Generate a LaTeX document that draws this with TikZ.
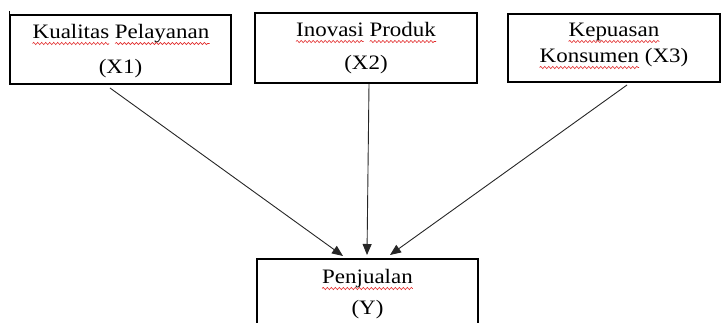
\documentclass[tikz,border=0pt]{standalone}
\usepackage{fontspec}
\setmainfont{Liberation Serif}[FakeStretch=1.12]
\usetikzlibrary{arrows.meta,calc,decorations.pathmorphing}
\definecolor{wavered}{RGB}{225,40,40}
\newlength\wKual \newlength\wPel \newlength\wIno \newlength\wProd
\newlength\wKons
\newcommand\lblfont{\fontsize{20.5}{24}\selectfont}
\begin{document}
\settowidth\wKual{\lblfont Kualitas}%
\settowidth\wPel{\lblfont Pelayanan}%
\settowidth\wIno{\lblfont Inovasi}%
\settowidth\wProd{\lblfont Produk}%
\settowidth\wKons{\lblfont Konsumen}%
\begin{tikzpicture}[x=1pt,y=-1pt,
  box/.style={draw=black,line width=1.6pt},
  lbl/.style={anchor=base,inner sep=0pt,font=\lblfont},
  wave/.style={draw=wavered,line width=0.6pt,decorate,decoration={snake,segment length=4pt,amplitude=1.1pt}},
  arr/.style={line width=0.9pt,draw=black!85,-{Triangle[length=11pt,width=9pt]}}]
\useasboundingbox (0,0) rectangle (721,323);
\clip (0,0) rectangle (721,323);
% boxes
\node[box,minimum width=221pt,minimum height=69pt,inner sep=0pt] (b1) at (120.5,49.5) {};
\node[box,minimum width=222pt,minimum height=70pt,inner sep=0pt] (b2) at (366,48) {};
\node[box,minimum width=212pt,minimum height=68pt,inner sep=0pt] (b3) at (614,48) {};
\node[box,minimum width=221pt,minimum height=80pt,inner sep=0pt] (by) at (367.5,299) {};
\draw[line width=0.8pt] (9,11) -- (9,15);
% texts
\node[lbl] (t1a) at (121,39) {Kualitas Pelayanan};
\node[lbl] (t1b) at (120.5,74) {(X1)};
\node[lbl] (t2a) at (366,37) {Inovasi Produk};
\node[lbl] (t2b) at (366,70) {(X2)};
\node[lbl] (t3a) at (614,37) {Kepuasan};
\node[lbl] (t3b) at (614,63) {Konsumen (X3)};
\node[lbl] (tya) at (367.5,284) {Penjualan};
\node[lbl] (tyb) at (367.5,315) {(Y)};
% spell-check waves
\draw[wave] ($(t1a.base west)+(0pt,-4.5pt)$) -- ($(t1a.base west)+(\wKual,-4.5pt)$);
\draw[wave] ($(t1a.base east)+(-\wPel,-4.5pt)$) -- ($(t1a.base east)+(0pt,-4.5pt)$);
\draw[wave] ($(t2a.base west)+(0pt,-4.5pt)$) -- ($(t2a.base west)+(\wIno,-4.5pt)$);
\draw[wave] ($(t2a.base east)+(-\wProd,-4.5pt)$) -- ($(t2a.base east)+(0pt,-4.5pt)$);
\draw[wave] ($(t3a.base west)+(0pt,-4.5pt)$) -- ($(t3a.base east)+(0pt,-4.5pt)$);
\draw[wave] ($(t3b.base west)+(0pt,-4.5pt)$) -- ($(t3b.base west)+(\wKons,-4.5pt)$);
\draw[wave] ($(tya.base west)+(0pt,-4.5pt)$) -- ($(tya.base east)+(0pt,-4.5pt)$);
% arrows
\coordinate (s1) at (110,88);
\coordinate (e1) at (343,256);
\coordinate (s2) at (369,84);
\coordinate (e2) at (367,255);
\coordinate (s3) at (627,85);
\coordinate (e3) at (390,255);
\draw[arr] (s1) -- (e1);
\draw[arr] (s2) -- (e2);
\draw[arr] (s3) -- (e3);
\end{tikzpicture}
\end{document}
